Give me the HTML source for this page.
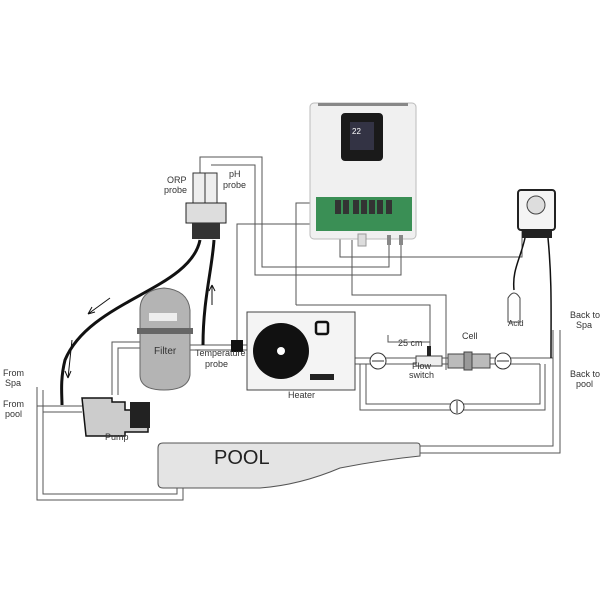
<!DOCTYPE html>
<html><head><style>
html,body{margin:0;padding:0;background:#fff;}
svg{display:block;font-family:"Liberation Sans",sans-serif;}
</style></head><body>
<svg width="603" height="603" viewBox="0 0 603 603" xmlns="http://www.w3.org/2000/svg">
<rect width="603" height="603" fill="#fff"/>
<g fill="none" stroke="#555" stroke-width="1">
<!-- left loop -->
<path d="M37 387 V500 H183 V488"/>
<path d="M43 390 V494 H177 V488"/>
<path d="M43 412 H82 M37 406 H82"/>
<!-- pump to filter -->
<path d="M112 395 V342 H140 M118 395 V348 H140"/>
<!-- filter to heater -->
<path d="M190 345 H247 M190 350 H247"/>
<!-- heater to right -->
<path d="M355 358 H553 M355 364 H540"/>
<!-- bypass -->
<path d="M360 364 V410 H545 V364 M366 364 V404 H540 V364"/>
<!-- back vertical -->
<path d="M553 330 V446 H420 M560 330 V453 H420"/>
<!-- wires -->
<path d="M200 173 V157 H262 V267 H389 V240"/>
<path d="M211 165 V165 H255 V275 H401 V240"/>
<path d="M237 345 V224 H315"/>
<path d="M296 305 V203 H315"/>
<path d="M296 305 H430 V350"/>
<path d="M352 240 V295 H446 V370"/>
<path d="M340 235 V257 H522 V200"/>
<path d="M388 335 V342 H430"/>
</g>
<!-- pool -->
<path d="M163 443 H417 Q420 443 420 446 V456 Q380 460 340 468 Q300 485 260 488 H163 Q158 488 158 483 V448 Q158 443 163 443 Z" fill="#e4e4e4" stroke="#555"/>
<text x="214" y="464" font-size="20" fill="#222">POOL</text>
<!-- controller -->
<rect x="310" y="103" width="106" height="136" rx="4" fill="#f0f0f0" stroke="#bbb"/>
<rect x="318" y="103" width="90" height="3" fill="#888"/>
<rect x="341" y="113" width="42" height="48" rx="4" fill="#1a1a1a"/>
<rect x="350" y="122" width="24" height="28" fill="#334"/>
<text x="352" y="134" font-size="8" fill="#fff">22</text>
<rect x="316" y="197" width="96" height="34" fill="#3a8f55"/>
<g fill="#333"><rect x="335" y="200" width="6" height="14"/><rect x="343" y="200" width="6" height="14"/><rect x="353" y="200" width="6" height="14"/><rect x="361" y="200" width="6" height="14"/><rect x="369" y="200" width="6" height="14"/><rect x="377" y="200" width="6" height="14"/><rect x="386" y="200" width="6" height="14"/></g>
<rect x="387" y="235" width="4" height="10" fill="#888"/><rect x="399" y="235" width="4" height="10" fill="#888"/>
<rect x="358" y="234" width="8" height="12" fill="#ddd" stroke="#999"/>
<!-- probes -->
<rect x="193" y="173" width="12" height="30" fill="#eee" stroke="#333"/>
<rect x="205" y="173" width="12" height="30" fill="#eee" stroke="#333"/>
<rect x="186" y="203" width="40" height="20" fill="#ddd" stroke="#222"/>
<rect x="192" y="223" width="28" height="16" fill="#333"/>
<path d="M200 240 C190 290 90 300 65 360 C60 380 62 395 62 405" fill="none" stroke="#111" stroke-width="3"/>
<path d="M214 240 C212 270 203 300 203 345" fill="none" stroke="#111" stroke-width="3"/>
<g stroke="#111" fill="none"><path d="M110 298 L88 314 M88 314 L92 307 M88 314 L95 312"/><path d="M72 340 L68 378 M68 378 L65 371 M68 378 L71 371"/><path d="M212 305 V285 M212 285 L209 291 M212 285 L215 291"/></g>
<!-- filter -->
<path d="M140 310 Q140 290 164 288 Q188 290 190 310 V375 Q188 390 164 390 Q140 390 140 375 Z" fill="#b4b4b4" stroke="#666"/>
<rect x="137" y="328" width="56" height="6" fill="#666"/>
<rect x="149" y="313" width="28" height="8" fill="#eee"/>
<text x="154" y="354" font-size="10" fill="#333">Filter</text>
<!-- pump -->
<path d="M82 398 H112 V402 H125 V410 H148 V432 H125 V436 H86 Z" fill="#ccc" stroke="#111" stroke-width="1.5"/>
<rect x="130" y="402" width="20" height="26" fill="#222"/>
<text x="105" y="440" font-size="9" fill="#333">Pump</text>
<!-- temperature probe -->
<rect x="231" y="340" width="12" height="12" fill="#111"/>
<text x="195" y="356" font-size="9" fill="#333">Temperature</text>
<text x="205" y="367" font-size="9" fill="#333">probe</text>
<!-- heater -->
<rect x="247" y="312" width="108" height="78" fill="#f4f4f4" stroke="#444"/>
<circle cx="281" cy="351" r="28" fill="#111"/>
<circle cx="281" cy="351" r="4" fill="#fff"/>
<rect x="316" y="322" width="12" height="12" rx="2" fill="none" stroke="#111" stroke-width="2.5"/>
<rect x="310" y="374" width="24" height="6" fill="#222"/>
<text x="288" y="398" font-size="9" fill="#333">Heater</text>
<!-- meters -->
<g fill="#fff" stroke="#333"><circle cx="378" cy="361" r="8"/><circle cx="503" cy="361" r="8"/><circle cx="457" cy="407" r="7"/></g>
<g stroke="#333"><path d="M372 361 H384 M497 361 H509 M457 401 V413"/></g>
<!-- flow switch and cell -->
<rect x="416" y="356" width="26" height="10" fill="#eee" stroke="#444"/>
<rect x="427" y="346" width="4" height="10" fill="#222"/>
<path d="M448 354 H490 V368 H448 Z" fill="#bbb" stroke="#444"/>
<rect x="464" y="352" width="8" height="18" fill="#999" stroke="#444"/>
<text x="398" y="346" font-size="9" fill="#333">25 cm</text>
<text x="412" y="369" font-size="9" fill="#333">Flow</text>
<text x="409" y="378" font-size="9" fill="#333">switch</text>
<text x="462" y="339" font-size="9" fill="#333">Cell</text>
<!-- acid pump -->
<rect x="518" y="190" width="37" height="40" rx="3" fill="#f4f4f4" stroke="#222" stroke-width="2"/>
<circle cx="536" cy="205" r="9" fill="#ddd" stroke="#444"/>
<rect x="522" y="230" width="30" height="8" fill="#222"/>
<path d="M525 238 C520 260 512 270 514 290" fill="none" stroke="#111" stroke-width="1.5"/>
<path d="M548 238 C552 280 551 310 551 358" fill="none" stroke="#111" stroke-width="1.5"/>
<path d="M508 298 Q514 288 520 298 V322 H508 Z" fill="#fff" stroke="#444"/>
<text x="508" y="326" font-size="8" fill="#333">Acid</text>
<!-- labels -->
<g font-size="9" fill="#333">
<text x="167" y="183">ORP</text><text x="164" y="193">probe</text>
<text x="229" y="177">pH</text><text x="223" y="188">probe</text>
<text x="3" y="376">From</text><text x="5" y="386">Spa</text>
<text x="3" y="407">From</text><text x="5" y="417">pool</text>
<text x="570" y="318">Back to</text><text x="576" y="328">Spa</text>
<text x="570" y="377">Back to</text><text x="576" y="387">pool</text>
</g>
</svg>
</body></html>
